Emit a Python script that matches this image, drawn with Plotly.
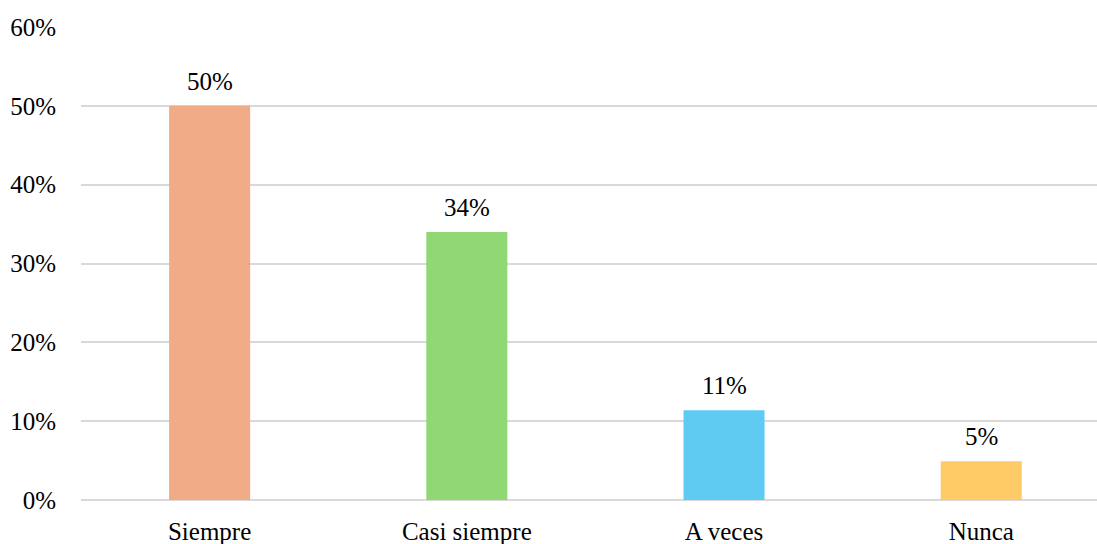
import plotly.graph_objects as go

categorias = ["Siempre", "Casi siempre", "A veces", "Nunca"]
porcentajes = [0.50, 0.34, 0.114, 0.049]
colores = ["#F1AB86", "#8FD873", "#5FCBF3", "#FFCB67"]

fuente = "Liberation Serif"
tam = 25

fig = go.Figure(
    go.Bar(
        x=categorias,
        y=porcentajes,
        marker=dict(color=colores, line=dict(width=0)),
        width=0.315,
        hoverinfo="x+y",
    )
)

# Etiquetas de porcentaje sobre cada barra
for cat, val in zip(categorias, porcentajes):
    fig.add_annotation(
        x=cat,
        y=val,
        text=f"{val:.0%}",
        showarrow=False,
        yanchor="bottom",
        yshift=9,
        font=dict(family=fuente, size=tam, color="#000000"),
    )

fig.update_layout(
    width=1097,
    height=544,
    margin=dict(l=81, r=0, t=27, b=44),
    plot_bgcolor="white",
    paper_bgcolor="white",
    showlegend=False,
    font=dict(family=fuente, size=tam, color="#000000"),
    xaxis=dict(
        range=[-0.5, 3.45],
        showgrid=False,
        showline=False,
        ticks="",
        ticklabelstandoff=14,
        tickfont=dict(family=fuente, size=tam, color="#000000"),
    ),
    yaxis=dict(
        range=[0, 0.6],
        dtick=0.1,
        tickformat=".0%",
        showgrid=True,
        gridcolor="#D9D9D9",
        gridwidth=2,
        zeroline=True,
        zerolinecolor="#D9D9D9",
        zerolinewidth=2,
        showline=False,
        ticks="",
        ticklabelstandoff=24,
        tickfont=dict(family=fuente, size=tam, color="#000000"),
    ),
)

fig.write_html("out.html")
